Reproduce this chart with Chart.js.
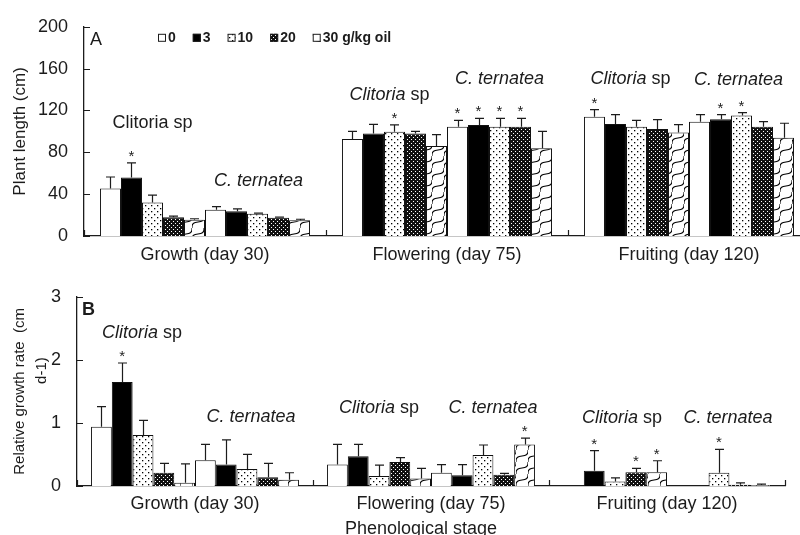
<!DOCTYPE html>
<html>
<head>
<meta charset="utf-8">
<script src="https://cdn.jsdelivr.net/npm/chart.js@4.4.1/dist/chart.umd.min.js"></script>
<style>
  html, body { margin: 0; padding: 0; background: #fff; overflow: hidden; }
  #wrapA { position: absolute; left: 0; top: 0; width: 812px; height: 270px; }
  #wrapB { position: absolute; left: 0; top: 270px; width: 800px; height: 265px; }
</style>
</head>
<body>
<div id="wrapA"><canvas id="chartA"></canvas></div>
<div id="wrapB"><canvas id="chartB"></canvas></div>
<script>
/* ── data ─────────────────────────────────────────────── */
const stages  = ['Growth (day 30)', 'Flowering (day 75)', 'Fruiting (day 120)'];
const doses   = ['0', '3', '10', '20', '30 g/kg oil'];
const species = ['Clitoria sp', 'C. ternatea'];

// one row per stage: Clitoria sp 0,3,10,20,30 then C. ternatea 0,3,10,20,30
const lengthMean = [
  [45.5, 56, 32, 18, 15.6, 25, 23.7, 21.2, 17.4, 15],
  [92.8, 98, 99.7, 98, 86, 104.4, 106.2, 104.4, 104.4, 84],
  [114, 107, 104.4, 102.2, 99, 109.3, 111.5, 115.3, 104.4, 94]
];
const lengthErr = [
  [10.9, 14, 7, 1, 0.9, 3, 2.3, 0.6, 0.6, 1],
  [7.2, 8.8, 6.5, 2, 11, 6.2, 6.2, 8, 8, 16],
  [6.9, 9, 6.2, 9, 7.5, 6.7, 4.5, 2.7, 4.9, 13.8]
];
const lengthStars = [
  [0, 1, 0, 0, 0, 0, 0, 0, 0, 0],
  [0, 0, 1, 0, 0, 1, 1, 1, 1, 0],
  [1, 0, 0, 0, 0, 0, 1, 1, 0, 0]
];

const rgrMean = [
  [0.94, 1.65, 0.81, 0.21, 0.05, 0.41, 0.34, 0.27, 0.14, 0.10],
  [0.34, 0.47, 0.16, 0.38, 0.12, 0.21, 0.17, 0.49, 0.18, 0.66],
  [0, 0.24, 0.07, 0.22, 0.22, 0, 0, 0.21, 0.02, 0.015]
];
const rgrErr = [
  [0.32, 0.30, 0.23, 0.15, 0.30, 0.25, 0.39, 0.23, 0.22, 0.11],
  [0.32, 0.19, 0.17, 0.07, 0.16, 0.13, 0.17, 0.16, 0.02, 0.10],
  [0, 0.32, 0.06, 0.06, 0.18, 0, 0, 0.37, 0.03, 0.015]
];
const rgrStars = [
  [0, 1, 0, 0, 0, 0, 0, 0, 0, 0],
  [0, 0, 0, 0, 0, 0, 0, 0, 0, 1],
  [0, 1, 0, 1, 1, 0, 0, 1, 0, 0]
];

// species labels above each group (y in data units)
const notesA = [
  { stage: 0, group: 0, y: 103, dx: 0,  parts: [['Clitoria sp', false]] },
  { stage: 0, group: 1, y: 48,  dx: 1,  parts: [['C. ternatea', true]] },
  { stage: 1, group: 0, y: 130, dx: -5, parts: [['Clitoria', true], [' sp', false]] },
  { stage: 1, group: 1, y: 145, dx: 0,  parts: [['C. ternatea', true]] },
  { stage: 2, group: 0, y: 145, dx: -6, parts: [['Clitoria', true], [' sp', false]] },
  { stage: 2, group: 1, y: 144, dx: -3, parts: [['C. ternatea', true]] }
];
const notesB = [
  { stage: 0, group: 0, y: 2.34, dx: -1, parts: [['Clitoria', true], [' sp', false]] },
  { stage: 0, group: 1, y: 1.02, dx: 4,  parts: [['C. ternatea', true]] },
  { stage: 1, group: 0, y: 1.15, dx: 0,  parts: [['Clitoria', true], [' sp', false]] },
  { stage: 1, group: 1, y: 1.15, dx: 10, parts: [['C. ternatea', true]] },
  { stage: 2, group: 0, y: 1.0,  dx: 7,  parts: [['Clitoria', true], [' sp', false]] },
  { stage: 2, group: 1, y: 1.0,  dx: 9,  parts: [['C. ternatea', true]] }
];

/* ── styling ──────────────────────────────────────────── */
const INK = '#1c1c1c';
const FAMILY = "'Liberation Sans', Arial, sans-serif";
Chart.defaults.font.family = FAMILY;
Chart.defaults.color = INK;

function makePattern(kind) {
  const c = document.createElement('canvas');
  const g = c.getContext('2d');
  if (kind === 'dots') {
    c.width = 6; c.height = 6;
    g.fillStyle = '#fff'; g.fillRect(0, 0, 6, 6);
    g.fillStyle = '#000';
    g.fillRect(1, 1, 1.3, 1.3);
    g.fillRect(4, 4, 1.3, 1.3);
  } else if (kind === 'hatch') {
    c.width = 4; c.height = 4;
    g.fillStyle = '#111'; g.fillRect(0, 0, 4, 4);
    g.fillStyle = '#fff';
    g.fillRect(1, 1, 1, 1);
    g.fillRect(3, 3, 1, 1);
  } else {
    // diagonal wavy strokes
    c.width = 12; c.height = 12;
    g.fillStyle = '#fff'; g.fillRect(0, 0, 12, 12);
    g.strokeStyle = '#000'; g.lineWidth = 1.1;
    g.beginPath();
    g.moveTo(0, 12); g.bezierCurveTo(-1, 2, 13, 10, 12, 0);
    g.stroke();
  }
  return g.createPattern(c, 'repeat');
}
const fills = ['#ffffff', '#000000', makePattern('dots'), makePattern('hatch'), makePattern('wave')];

function buildDatasets(mean) {
  const sets = [];
  species.forEach((sp, g) => doses.forEach((dose, d) => {
    const k = g * doses.length + d;
    sets.push({ label: sp + ' ' + dose, data: mean.map(row => row[k]), backgroundColor: fills[d] });
  }));
  return sets;
}

function makeExtras(o) {
  return {
    id: 'extras',
    afterDraw(chart) {
      const ctx = chart.ctx, area = chart.chartArea;
      const xs = chart.scales.x, ys = chart.scales.y;
      ctx.save();
      ctx.strokeStyle = INK; ctx.fillStyle = INK; ctx.lineWidth = 1.2;

      // inward ticks on both axes
      ctx.beginPath();
      ys.ticks.forEach(t => {
        const y = Math.round(ys.getPixelForValue(t.value)) + 0.5;
        ctx.moveTo(area.left, y); ctx.lineTo(area.left + 6, y);
      });
      const cw = xs.width / stages.length;
      for (let i = 0; i <= stages.length; i++) {
        const x = Math.round(xs.left + i * cw) + 0.5;
        ctx.moveTo(x, area.bottom); ctx.lineTo(x, area.bottom - 6);
      }
      ctx.stroke();

      // error bars and stars
      ctx.font = '15px ' + FAMILY;
      ctx.textAlign = 'center'; ctx.textBaseline = 'alphabetic';
      o.mean.forEach((row, s) => row.forEach((m, k) => {
        const bar = chart.getDatasetMeta(k).data[s];
        const e = o.err[s][k];
        const top = ys.getPixelForValue(m + e);
        if (e > 0) {
          const x = Math.round(bar.x) + 0.5;
          ctx.beginPath();
          ctx.moveTo(x, bar.y); ctx.lineTo(x, top);
          ctx.moveTo(x - 4.5, top); ctx.lineTo(x + 4.5, top);
          ctx.stroke();
        }
        if (o.stars[s][k]) ctx.fillText('*', bar.x, top - 2);
      }));

      // species labels
      ctx.textAlign = 'left';
      o.notes.forEach(n => {
        const first = chart.getDatasetMeta(n.group * doses.length).data[n.stage];
        const last = chart.getDatasetMeta(n.group * doses.length + doses.length - 1).data[n.stage];
        const cx = (first.x - first.width / 2 + last.x + last.width / 2) / 2 + n.dx;
        const fonts = n.parts.map(p => (p[1] ? 'italic ' : '') + '18px ' + FAMILY);
        let total = 0;
        n.parts.forEach((p, i) => { ctx.font = fonts[i]; total += ctx.measureText(p[0]).width; });
        let x = cx - total / 2;
        const y = ys.getPixelForValue(n.y);
        n.parts.forEach((p, i) => { ctx.font = fonts[i]; ctx.fillText(p[0], x, y); x += ctx.measureText(p[0]).width; });
      });

      // panel letter
      ctx.font = (o.letterBold ? 'bold ' : '') + '18px ' + FAMILY;
      ctx.fillText(o.letter, area.left + o.letterDx, area.top + 18);

      // legend
      if (o.legend) {
        ctx.font = 'bold 14px ' + FAMILY;
        ctx.textBaseline = 'middle';
        let x = area.left + 74;
        const yc = area.top + 11;
        doses.forEach((d, i) => {
          ctx.fillStyle = fills[i];
          ctx.fillRect(x, yc - 4, 8, 8);
          ctx.lineWidth = 1;
          ctx.strokeRect(x + 0.5, yc - 3.5, 7, 7);
          ctx.fillStyle = INK;
          ctx.fillText(d, x + 10, yc);
          x += 10 + ctx.measureText(d).width + 17;
        });
      }
      ctx.restore();
    }
  };
}

function makeChart(id, o) {
  return new Chart(document.getElementById(id), {
    type: 'bar',
    data: { labels: stages, datasets: buildDatasets(o.mean) },
    plugins: [makeExtras(o)],
    options: {
      responsive: true,
      maintainAspectRatio: false,
      animation: false,
      layout: { padding: { top: o.padTop, right: o.padRight, left: 0, bottom: 0 } },
      plugins: { legend: { display: false }, tooltip: { enabled: false } },
      datasets: {
        bar: { categoryPercentage: o.catPct, barPercentage: 1, borderColor: '#111', borderWidth: 1, borderSkipped: 'bottom' }
      },
      scales: {
        x: {
          grid: { display: false, drawTicks: false },
          border: { color: INK, width: 1.3 },
          ticks: { color: INK, font: { size: 18 }, padding: o.xPad, maxRotation: 0, autoSkip: false },
          title: o.xTitle,
          afterFit: s => { s.height = o.xHeight; }
        },
        y: {
          min: 0, max: o.yMax,
          grid: { display: false, drawTicks: false },
          border: { color: INK, width: 1.3 },
          ticks: { stepSize: o.yStep, color: INK, font: { size: 18 }, padding: 16 },
          title: o.yTitle,
          afterFit: s => { s.width = o.yWidth; }
        }
      }
    }
  });
}

makeChart('chartA', {
  mean: lengthMean, err: lengthErr, stars: lengthStars, notes: notesA,
  letter: 'A', letterBold: false, letterDx: 6, legend: true,
  padTop: 22, padRight: 2, catPct: 0.868, xPad: 8, xHeight: 34, yWidth: 84,
  yMax: 200, yStep: 40,
  xTitle: { display: false },
  yTitle: { display: true, text: 'Plant length (cm)', color: INK, font: { size: 17 }, padding: { top: 10 } }
});

makeChart('chartB', {
  mean: rgrMean, err: rgrErr, stars: rgrStars, notes: notesB,
  letter: 'B', letterBold: true, letterDx: 5, legend: false,
  padTop: 18, padRight: 15, catPct: 0.881, xPad: 7, xHeight: 49, yWidth: 77,
  yMax: 3, yStep: 1,
  xTitle: { display: true, text: 'Phenological stage    ', color: INK, font: { size: 18, lineHeight: 0.7 }, padding: { top: 0, bottom: 0 } },
  yTitle: { display: true, text: ['Relative growth rate  (cm', '          d-1)'], color: INK, font: { size: 15, lineHeight: 1.47 }, padding: { top: 9 } }
});
</script>
</body>
</html>
